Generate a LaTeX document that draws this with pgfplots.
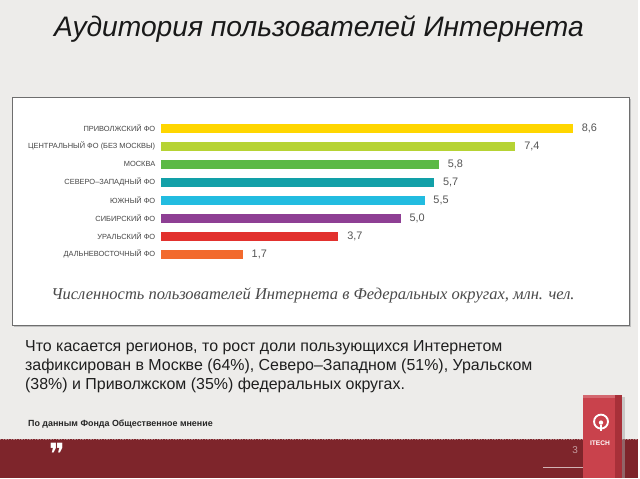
\documentclass[border=0pt]{standalone}
\usepackage{pgfplots}
\pgfplotsset{compat=1.18}
\usepackage{fontspec}
\setmainfont{Liberation Sans}
\newfontfamily\capserif{Liberation Serif}
\newfontfamily\dejavu{DejaVu Sans}
\definecolor{bgc}{HTML}{EDECEA}
\definecolor{boxline}{HTML}{6E6E6E}
\definecolor{footc}{HTML}{7E252B}
\definecolor{logoc}{HTML}{C9424C}
\definecolor{logod}{HTML}{A83039}
\definecolor{labc}{HTML}{454545}
\definecolor{numc}{HTML}{555555}
\definecolor{capc}{HTML}{4A4A4A}
\definecolor{c1}{HTML}{FFD600}
\definecolor{c2}{HTML}{B6D334}
\definecolor{c3}{HTML}{5BB946}
\definecolor{c4}{HTML}{12A0A8}
\definecolor{c5}{HTML}{22BCE0}
\definecolor{c6}{HTML}{8E3F94}
\definecolor{c7}{HTML}{E2312E}
\definecolor{c8}{HTML}{F26A2D}
\begin{document}
\begin{tikzpicture}
\begin{scope}[x=0.75pt,y=-0.75pt]
\path[use as bounding box] (0,0) rectangle (640,480);
\fill[bgc] (0,0) rectangle (640,480);
% chart box
\fill[black!25] (14.5,99.5) rectangle (633.5,328.5);
\draw[boxline, fill=white, line width=0.8pt] (13,98) rectangle (632,327);
% title
\node[anchor=base, inner sep=0pt, text=black!90] at (320,37)
  {\fontsize{21.2}{25}\selectfont\itshape Аудитория пользователей Интернета};
% caption
\node[anchor=base, inner sep=0pt, text=capc] at (314,300)
  {\fontsize{12.4}{14}\selectfont\capserif\itshape Численность пользователей Интернета в Федеральных округах, млн. чел.};
% body text
\begin{scope}[every node/.style={anchor=base west, inner sep=0pt, text=black!88}]
\node at (25,353) {\fontsize{12}{14}\selectfont Что касается регионов, то рост доли пользующихся Интернетом};
\node at (25,372) {\fontsize{12}{14}\selectfont зафиксирован в Москве (64\%), Северо–Западном (51\%), Уральском};
\node at (25,391) {\fontsize{12}{14}\selectfont (38\%) и Приволжском (35\%) федеральных округах.};
\end{scope}
\node[anchor=base west, inner sep=0pt, text=black!85] at (28,427.5)
  {\fontsize{6.7}{8}\selectfont\bfseries По данным Фонда Общественное мнение};
% footer
\fill[footc] (0,440) rectangle (640,480);
\draw[footc!60!white, line width=0.4pt, dash pattern=on 1pt off 1pt] (0,440.5) -- (640,440.5);
\node[text=white, inner sep=0pt] at (58,455) {\fontsize{22}{24}\selectfont\dejavu ❞};
\node[text=footc!45!white, inner sep=0pt] at (577,452) {\fontsize{7.5}{9}\selectfont 3};
\draw[footc!35!white, line width=1.1pt] (545,469) -- (586,469);
% logo book
\fill[black!35, opacity=0.5] (587,398) rectangle (627,480);
\fill[logoc] (585,396) rectangle (624,480);
\fill[logod] (617,396) rectangle (624,480);
\fill[logoc!80!white] (585,396) rectangle (617,399);
\draw[white, line width=1.4pt] (603,423) circle (7);
\fill[white] (603,424) circle (2.2);
\draw[white, line width=1pt] (603,426) -- (603,432);
\node[text=white, inner sep=0pt] at (602,445) {\fontsize{5}{6}\selectfont\bfseries ITECH};
\end{scope}
\begin{axis}[
  at={(121.5pt,-89.6pt)}, anchor=north west,
  scale only axis, width=360pt, height=108.4pt,
  xbar, bar width=6.75pt, bar shift=0pt,
  xmin=0, xmax=10, ymin=-0.5, ymax=7.5, y dir=reverse,
  axis line style={draw=none}, major tick length=0pt,
  xtick=\empty,
  ytick={0,1,2,3,4,5,6,7},
  yticklabels={ПРИВОЛЖСКИЙ ФО, ЦЕНТРАЛЬНЫЙ ФО (БЕЗ МОСКВЫ), МОСКВА, СЕВЕРО–ЗАПАДНЫЙ ФО, ЮЖНЫЙ ФО, СИБИРСКИЙ ФО, УРАЛЬСКИЙ ФО, ДАЛЬНЕВОСТОЧНЫЙ ФО},
  yticklabel style={font=\fontsize{5.6}{6}\selectfont, text=labc, inner sep=0pt, xshift=-4.5pt},
  nodes near coords,
  nodes near coords style={anchor=west, inner sep=0pt, xshift=6.5pt, text=numc, font=\fontsize{8.2}{9}\selectfont},
  /pgf/number format/.cd, fixed, fixed zerofill, precision=1, use comma, assume math mode=true,
  /pgfplots/.cd,
  every axis plot/.append style={draw=none},
  clip=false,
]
\addplot[fill=c1] coordinates {(8.6,0)};
\addplot[fill=c2] coordinates {(7.4,1)};
\addplot[fill=c3] coordinates {(5.8,2)};
\addplot[fill=c4] coordinates {(5.7,3)};
\addplot[fill=c5] coordinates {(5.5,4)};
\addplot[fill=c6] coordinates {(5.0,5)};
\addplot[fill=c7] coordinates {(3.7,6)};
\addplot[fill=c8] coordinates {(1.7,7)};
\end{axis}
\end{tikzpicture}
\end{document}
